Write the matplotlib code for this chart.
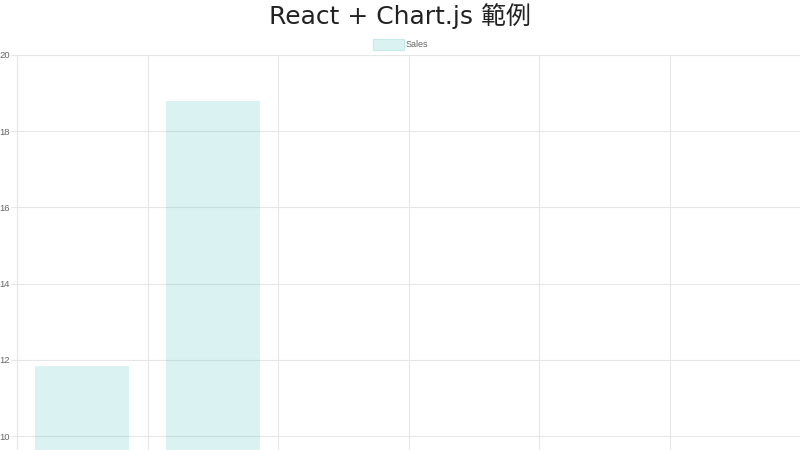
import matplotlib
matplotlib.use("Agg")
import matplotlib.pyplot as plt
import numpy as np
from matplotlib.patches import Rectangle

# Data
categories = ["Red", "Blue", "Yellow", "Green", "Purple", "Orange"]
sales = [11.85, 18.8, 3, 5, 2, 3]
y_ticks = [10, 12, 14, 16, 18, 20]
title = "React + Chart.js 範例"
series_name = "Sales"

fig = plt.figure(figsize=(8, 4.5), dpi=100)
W, H = 800, 450
left_px, top_px = 17, 55
ax = fig.add_axes([left_px / W, 0, 1 - left_px / W, (H - top_px) / H])

x = np.arange(len(categories))
ax.bar(x, sales, width=0.72, color=(75/255, 192/255, 192/255, 0.2),
       edgecolor="none", label=series_name, zorder=2)

ax.set_xlim(-0.5, len(categories) - 0.5)
ax.set_ylim(10 - 14 / 38.1, 20)
ax.set_yticks(y_ticks)
ax.set_yticklabels([str(t) for t in y_ticks], fontsize=6.8, color="#666666",
                   family="Liberation Sans")
ax.set_xticks(x)
ax.set_xticklabels([])
ax.set_xticks(np.arange(len(categories)) - 0.5, minor=True)
ax.tick_params(axis="x", which="both", length=0)
ax.tick_params(axis="y", length=4, color="#e6e6e6", width=0.8, pad=1)
ax.grid(False)
ax.yaxis.grid(True, color="#e6e6e6", linewidth=0.8, zorder=0)
ax.xaxis.grid(True, which="minor", color="#e6e6e6", linewidth=0.8, zorder=0)
for s in ["top", "right", "bottom"]:
    ax.spines[s].set_visible(False)
ax.spines["left"].set_color("#e6e6e6")
ax.spines["left"].set_linewidth(0.8)

fig.text(0.5, 1 - 16 / H, title, ha="center", va="center", fontsize=18,
         color="#222222", family=["DejaVu Sans", "Noto Sans CJK TC"])

# Legend (manual, Chart.js style)
fig.patches.append(Rectangle((373 / W, 1 - 50 / H), 31 / W, 11 / H,
                             transform=fig.transFigure, facecolor=(75/255, 192/255, 192/255, 0.2),
                             edgecolor=(75/255, 192/255, 192/255, 0.25), linewidth=0.8))
fig.text(406 / W, 1 - 44.5 / H, series_name, ha="left", va="center", fontsize=6.5,
         color="#666666", family="Liberation Sans")

fig.savefig("out.png", dpi=100)
